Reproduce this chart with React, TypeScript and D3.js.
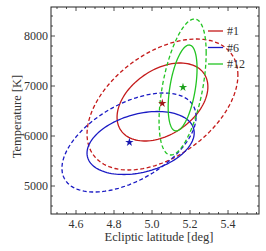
import React, { useEffect, useRef } from "react";
import * as d3 from "d3";

// ellipse params: center, half extents along x / y, correlation
const names = ["#1", "#6", "#12"];
const colors = ["#c41a1a", "#1a1ac4", "#22c422"];
const starColors = ["#a01818", "#1818b0", "#1ca01c"];

const innerCx = [5.055, 4.94, 5.161];
const innerCy = [6680, 5860, 6960];
const innerHx = [0.239, 0.282, 0.076];
const innerHy = [780, 630, 860];
const innerRho = [0.39, 0.32, 0.45];

const outerCx = [5.055, 4.879, 5.161];
const outerCy = [6630, 5870, 6980];
const outerHx = [0.397, 0.353, 0.124];
const outerHy = [1310, 990, 1360];
const outerRho = [0.45, 0.52, 0.5];

const bestX = [5.054, 4.881, 5.163];
const bestY = [6654, 5874, 6974];

const xTicks = [4.6, 4.8, 5.0, 5.2, 5.4];
const yTicks = [5000, 6000, 7000, 8000];

function ellipsePts(cx: number, cy: number, hx: number, hy: number, rho: number) {
  const s = Math.sqrt(1 - rho * rho);
  return d3.range(0, 361, 3).map((deg) => {
    const t = (deg * Math.PI) / 180;
    return [cx + hx * Math.cos(t), cy + hy * (rho * Math.cos(t) + s * Math.sin(t))];
  });
}

function Chart() {
  const canvas = useRef<HTMLDivElement>(null);

  useEffect(() => {
    const width = 266;
    const height = 251;
    const margin = { top: 7, left: 51, bottom: 37, right: 7 };
    const w = width - margin.left - margin.right;
    const h = height - margin.top - margin.bottom;
    const font = "'Liberation Serif', 'DejaVu Serif', serif";

    d3.select(canvas.current).selectAll("*").remove();
    const svg = d3
      .select(canvas.current)
      .append("svg")
      .attr("width", width)
      .attr("height", height)
      .style("display", "block");

    const g = svg.append("g").attr("transform", `translate(${margin.left},${margin.top})`);

    const x = d3.scaleLinear().domain([4.4684, 5.563]).range([0, w]);
    const y = d3.scaleLinear().domain([4440, 8580]).range([h, 0]);

    const line = d3
      .line<number[]>()
      .x((d) => x(d[0]))
      .y((d) => y(d[1]));

    const clip = svg.append("clipPath").attr("id", "plotclip");
    clip.append("rect").attr("width", w).attr("height", h);
    const plot = g.append("g").attr("clip-path", "url(#plotclip)");

    names.forEach((_, i) => {
      plot
        .append("path")
        .attr("d", line(ellipsePts(outerCx[i], outerCy[i], outerHx[i], outerHy[i], outerRho[i])))
        .attr("fill", "none")
        .attr("stroke", colors[i])
        .attr("stroke-width", 1.3)
        .attr("stroke-dasharray", "4,2.5");
      plot
        .append("path")
        .attr("d", line(ellipsePts(innerCx[i], innerCy[i], innerHx[i], innerHy[i], innerRho[i])))
        .attr("fill", "none")
        .attr("stroke", colors[i])
        .attr("stroke-width", 1.3);
    });

    const star = d3.symbol().type(d3.symbolStar).size(22);
    names.forEach((_, i) => {
      plot
        .append("path")
        .attr("d", star())
        .attr("transform", `translate(${x(bestX[i])},${y(bestY[i])})`)
        .attr("fill", starColors[i]);
    });

    // frame with inward ticks
    const frame = "#222";
    const xMinor = d3.range(4.5, 5.56, 0.05).filter((v) => Math.abs(Math.round(v * 5) - v * 5) > 0.01);
    const yMinor = d3.range(4600, 8600, 200).filter((v) => v % 1000 !== 0);

    const ticks = g.append("g").attr("stroke", frame).attr("stroke-width", 0.8);
    xTicks.forEach((v) => {
      ticks.append("line").attr("x1", x(v)).attr("x2", x(v)).attr("y1", h).attr("y2", h - 4);
      ticks.append("line").attr("x1", x(v)).attr("x2", x(v)).attr("y1", 0).attr("y2", 4);
    });
    xMinor.forEach((v) => {
      ticks.append("line").attr("x1", x(v)).attr("x2", x(v)).attr("y1", h).attr("y2", h - 2);
      ticks.append("line").attr("x1", x(v)).attr("x2", x(v)).attr("y1", 0).attr("y2", 2);
    });
    yTicks.forEach((v) => {
      ticks.append("line").attr("x1", 0).attr("x2", 4).attr("y1", y(v)).attr("y2", y(v));
      ticks.append("line").attr("x1", w).attr("x2", w - 4).attr("y1", y(v)).attr("y2", y(v));
    });
    yMinor.forEach((v) => {
      ticks.append("line").attr("x1", 0).attr("x2", 2).attr("y1", y(v)).attr("y2", y(v));
      ticks.append("line").attr("x1", w).attr("x2", w - 2).attr("y1", y(v)).attr("y2", y(v));
    });

    g.append("rect")
      .attr("width", w)
      .attr("height", h)
      .attr("fill", "none")
      .attr("stroke", frame)
      .attr("stroke-width", 1);

    g.append("g")
      .selectAll("text")
      .data(xTicks)
      .enter()
      .append("text")
      .attr("x", (d) => x(d))
      .attr("y", h + 14)
      .attr("text-anchor", "middle")
      .attr("font-family", font)
      .attr("font-size", 12)
      .attr("fill", "#333")
      .text((d) => d.toFixed(1));

    g.append("g")
      .selectAll("text")
      .data(yTicks)
      .enter()
      .append("text")
      .attr("x", -3)
      .attr("y", (d) => y(d) + 4)
      .attr("text-anchor", "end")
      .attr("font-family", font)
      .attr("font-size", 12)
      .attr("fill", "#333")
      .text((d) => d);

    svg
      .append("text")
      .attr("x", margin.left + w / 2 + 4)
      .attr("y", height - 10)
      .attr("text-anchor", "middle")
      .attr("font-family", font)
      .attr("font-size", 12.5)
      .attr("fill", "#333")
      .text("Ecliptic latitude [deg]");

    svg
      .append("text")
      .attr("transform", `translate(21,${margin.top + h / 2 + 6}) rotate(-90)`)
      .attr("text-anchor", "middle")
      .attr("font-family", font)
      .attr("font-size", 12.5)
      .attr("fill", "#333")
      .text("Temperature [K]");

    // legend
    const leg = g.append("g").attr("transform", `translate(${208 - margin.left},${31 - margin.top})`);
    names.forEach((n, i) => {
      leg
        .append("line")
        .attr("x1", 0)
        .attr("x2", 15)
        .attr("y1", i * 16.5)
        .attr("y2", i * 16.5)
        .attr("stroke", colors[i])
        .attr("stroke-width", 1.3);
      leg
        .append("text")
        .attr("x", 19)
        .attr("y", i * 16.5 + 4)
        .attr("font-family", font)
        .attr("font-size", 12)
        .attr("fill", "#333")
        .text(n);
    });
  }, []);

  return <div ref={canvas} style={{ position: "absolute", left: 0, top: 0 }}></div>;
}

export default function App() {
  return <Chart />;
}
